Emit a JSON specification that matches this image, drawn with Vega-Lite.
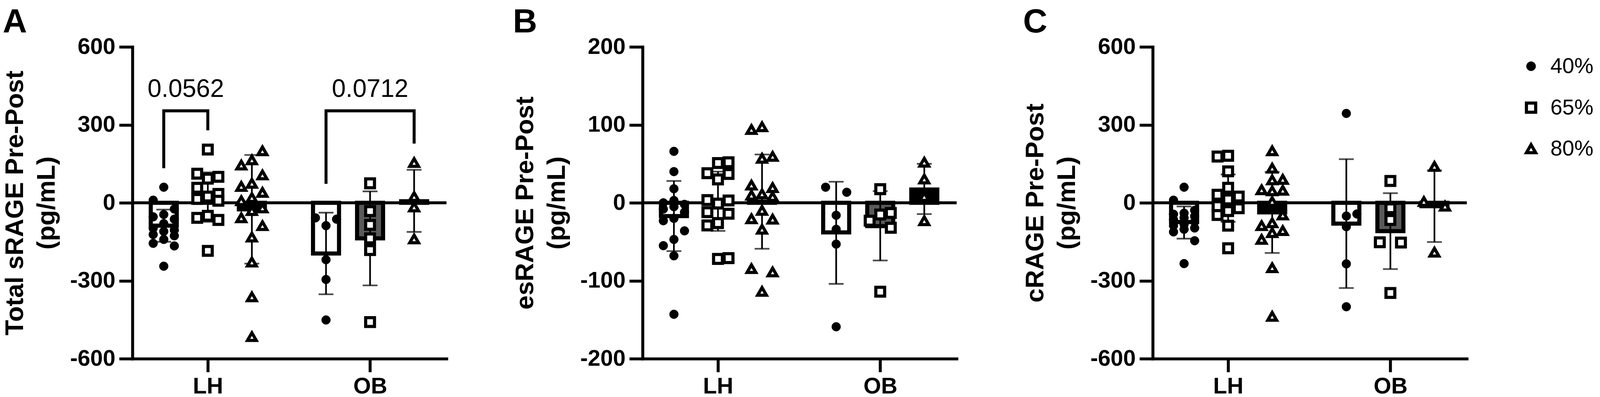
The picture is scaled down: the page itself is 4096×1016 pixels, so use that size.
{
  "$schema": "https://vega.github.io/schema/vega-lite/v6.json",
  "background": "white",
  "padding": {"left": 6, "top": 14, "right": 0, "bottom": 0},
  "spacing": 165,
  "resolve": {"scale": {"shape": "shared", "fill": "shared"}, "legend": {"shape": "shared", "fill": "shared"}},
  "config": {
    "font": "Liberation Sans",
    "view": {"stroke": null},
    "axis": {
      "domainColor": "black", "domainWidth": 7.6, "domainCap": "square",
      "tickColor": "black", "tickWidth": 7.6, "tickSize": 34,
      "labelFont": "Liberation Sans", "labelFontWeight": "bold", "labelFontSize": 58, "labelColor": "black",
      "titleFont": "Liberation Sans", "titleFontWeight": "bold", "titleFontSize": 65, "titleColor": "black",
      "titleLineHeight": 81, "titlePadding": 25, "labelPadding": 10, "grid": false
    },
    "axisX": {"labelPadding": 8},
    "title": {"anchor": "start", "frame": "bounds", "fontSize": 86, "fontWeight": "bold", "font": "Liberation Sans", "color": "black", "baseline": "alphabetic", "offset": -10},
    "legend": {"orient": "right", "offset": 111, "padding": 22, "labelFont": "Liberation Sans", "labelFontSize": 55, "labelColor": "black", "symbolStrokeColor": "black", "symbolStrokeWidth": 8, "rowPadding": 49, "labelOffset": 22}
  },
  "datasets": {
    "points": [
      {"panel":"A","group":"LH","intensity":"40%","value":60},{"panel":"A","group":"LH","intensity":"40%","value":10},{"panel":"A","group":"LH","intensity":"40%","value":-24},{"panel":"A","group":"LH","intensity":"40%","value":-45},{"panel":"A","group":"LH","intensity":"40%","value":-54},{"panel":"A","group":"LH","intensity":"40%","value":-63},{"panel":"A","group":"LH","intensity":"40%","value":-80},{"panel":"A","group":"LH","intensity":"40%","value":-98},{"panel":"A","group":"LH","intensity":"40%","value":-105},{"panel":"A","group":"LH","intensity":"40%","value":-110},{"panel":"A","group":"LH","intensity":"40%","value":-122},{"panel":"A","group":"LH","intensity":"40%","value":-127},{"panel":"A","group":"LH","intensity":"40%","value":-141},{"panel":"A","group":"LH","intensity":"40%","value":-156},{"panel":"A","group":"LH","intensity":"40%","value":-166},{"panel":"A","group":"LH","intensity":"40%","value":-244},
      {"panel":"A","group":"LH","intensity":"65%","value":205},{"panel":"A","group":"LH","intensity":"65%","value":112},{"panel":"A","group":"LH","intensity":"65%","value":100},{"panel":"A","group":"LH","intensity":"65%","value":93},{"panel":"A","group":"LH","intensity":"65%","value":58},{"panel":"A","group":"LH","intensity":"65%","value":34},{"panel":"A","group":"LH","intensity":"65%","value":24},{"panel":"A","group":"LH","intensity":"65%","value":15},{"panel":"A","group":"LH","intensity":"65%","value":8},{"panel":"A","group":"LH","intensity":"65%","value":-50},{"panel":"A","group":"LH","intensity":"65%","value":-58},{"panel":"A","group":"LH","intensity":"65%","value":-66},{"panel":"A","group":"LH","intensity":"65%","value":-185},
      {"panel":"A","group":"LH","intensity":"80%","value":200},{"panel":"A","group":"LH","intensity":"80%","value":165},{"panel":"A","group":"LH","intensity":"80%","value":145},{"panel":"A","group":"LH","intensity":"80%","value":107},{"panel":"A","group":"LH","intensity":"80%","value":75},{"panel":"A","group":"LH","intensity":"80%","value":63},{"panel":"A","group":"LH","intensity":"80%","value":40},{"panel":"A","group":"LH","intensity":"80%","value":20},{"panel":"A","group":"LH","intensity":"80%","value":8},{"panel":"A","group":"LH","intensity":"80%","value":-20},{"panel":"A","group":"LH","intensity":"80%","value":-30},{"panel":"A","group":"LH","intensity":"80%","value":-58},{"panel":"A","group":"LH","intensity":"80%","value":-88},{"panel":"A","group":"LH","intensity":"80%","value":-132},{"panel":"A","group":"LH","intensity":"80%","value":-228},{"panel":"A","group":"LH","intensity":"80%","value":-362},{"panel":"A","group":"LH","intensity":"80%","value":-515},
      {"panel":"A","group":"OB","intensity":"40%","value":-58},{"panel":"A","group":"OB","intensity":"40%","value":-88},{"panel":"A","group":"OB","intensity":"40%","value":-63},{"panel":"A","group":"OB","intensity":"40%","value":-219},{"panel":"A","group":"OB","intensity":"40%","value":-295},{"panel":"A","group":"OB","intensity":"40%","value":-451},
      {"panel":"A","group":"OB","intensity":"65%","value":75},{"panel":"A","group":"OB","intensity":"65%","value":-32},{"panel":"A","group":"OB","intensity":"65%","value":-85},{"panel":"A","group":"OB","intensity":"65%","value":-137},{"panel":"A","group":"OB","intensity":"65%","value":-182},{"panel":"A","group":"OB","intensity":"65%","value":-459},
      {"panel":"A","group":"OB","intensity":"80%","value":155},{"panel":"A","group":"OB","intensity":"80%","value":24},{"panel":"A","group":"OB","intensity":"80%","value":-16},{"panel":"A","group":"OB","intensity":"80%","value":-139},
      {"panel":"B","group":"LH","intensity":"40%","value":66},{"panel":"B","group":"LH","intensity":"40%","value":40},{"panel":"B","group":"LH","intensity":"40%","value":18},{"panel":"B","group":"LH","intensity":"40%","value":3},{"panel":"B","group":"LH","intensity":"40%","value":0},{"panel":"B","group":"LH","intensity":"40%","value":-2},{"panel":"B","group":"LH","intensity":"40%","value":-5},{"panel":"B","group":"LH","intensity":"40%","value":-8},{"panel":"B","group":"LH","intensity":"40%","value":-12},{"panel":"B","group":"LH","intensity":"40%","value":-20},{"panel":"B","group":"LH","intensity":"40%","value":-23},{"panel":"B","group":"LH","intensity":"40%","value":-36},{"panel":"B","group":"LH","intensity":"40%","value":-47},{"panel":"B","group":"LH","intensity":"40%","value":-55},{"panel":"B","group":"LH","intensity":"40%","value":-68},{"panel":"B","group":"LH","intensity":"40%","value":-143},
      {"panel":"B","group":"LH","intensity":"65%","value":52},{"panel":"B","group":"LH","intensity":"65%","value":51},{"panel":"B","group":"LH","intensity":"65%","value":38},{"panel":"B","group":"LH","intensity":"65%","value":37},{"panel":"B","group":"LH","intensity":"65%","value":30},{"panel":"B","group":"LH","intensity":"65%","value":3.5},{"panel":"B","group":"LH","intensity":"65%","value":3},{"panel":"B","group":"LH","intensity":"65%","value":-1},{"panel":"B","group":"LH","intensity":"65%","value":-12},{"panel":"B","group":"LH","intensity":"65%","value":-14},{"panel":"B","group":"LH","intensity":"65%","value":-26},{"panel":"B","group":"LH","intensity":"65%","value":-29},{"panel":"B","group":"LH","intensity":"65%","value":-71},{"panel":"B","group":"LH","intensity":"65%","value":-72},
      {"panel":"B","group":"LH","intensity":"80%","value":94},{"panel":"B","group":"LH","intensity":"80%","value":97.5},{"panel":"B","group":"LH","intensity":"80%","value":57},{"panel":"B","group":"LH","intensity":"80%","value":59.5},{"panel":"B","group":"LH","intensity":"80%","value":19.5},{"panel":"B","group":"LH","intensity":"80%","value":22.7},{"panel":"B","group":"LH","intensity":"80%","value":11.4},{"panel":"B","group":"LH","intensity":"80%","value":9.7},{"panel":"B","group":"LH","intensity":"80%","value":8},{"panel":"B","group":"LH","intensity":"80%","value":-9.7},{"panel":"B","group":"LH","intensity":"80%","value":-21},{"panel":"B","group":"LH","intensity":"80%","value":-20.5},{"panel":"B","group":"LH","intensity":"80%","value":-34},{"panel":"B","group":"LH","intensity":"80%","value":-84.5},{"panel":"B","group":"LH","intensity":"80%","value":-88.7},{"panel":"B","group":"LH","intensity":"80%","value":-113.7},
      {"panel":"B","group":"OB","intensity":"40%","value":13.5},{"panel":"B","group":"OB","intensity":"40%","value":20},{"panel":"B","group":"OB","intensity":"40%","value":-16},{"panel":"B","group":"OB","intensity":"40%","value":-34},{"panel":"B","group":"OB","intensity":"40%","value":-53},{"panel":"B","group":"OB","intensity":"40%","value":-159},
      {"panel":"B","group":"OB","intensity":"65%","value":17.5},{"panel":"B","group":"OB","intensity":"65%","value":-13},{"panel":"B","group":"OB","intensity":"65%","value":-15},{"panel":"B","group":"OB","intensity":"65%","value":-23},{"panel":"B","group":"OB","intensity":"65%","value":-32},{"panel":"B","group":"OB","intensity":"65%","value":-114},
      {"panel":"B","group":"OB","intensity":"80%","value":52},{"panel":"B","group":"OB","intensity":"80%","value":30.5},{"panel":"B","group":"OB","intensity":"80%","value":8},{"panel":"B","group":"OB","intensity":"80%","value":-23},
      {"panel":"C","group":"LH","intensity":"40%","value":60},{"panel":"C","group":"LH","intensity":"40%","value":10},{"panel":"C","group":"LH","intensity":"40%","value":-29},{"panel":"C","group":"LH","intensity":"40%","value":-40},{"panel":"C","group":"LH","intensity":"40%","value":-44},{"panel":"C","group":"LH","intensity":"40%","value":-52},{"panel":"C","group":"LH","intensity":"40%","value":-58},{"panel":"C","group":"LH","intensity":"40%","value":-65},{"panel":"C","group":"LH","intensity":"40%","value":-73},{"panel":"C","group":"LH","intensity":"40%","value":-83},{"panel":"C","group":"LH","intensity":"40%","value":-88},{"panel":"C","group":"LH","intensity":"40%","value":-97},{"panel":"C","group":"LH","intensity":"40%","value":-102},{"panel":"C","group":"LH","intensity":"40%","value":-112},{"panel":"C","group":"LH","intensity":"40%","value":-146},{"panel":"C","group":"LH","intensity":"40%","value":-234},
      {"panel":"C","group":"LH","intensity":"65%","value":178},{"panel":"C","group":"LH","intensity":"65%","value":181},{"panel":"C","group":"LH","intensity":"65%","value":121},{"panel":"C","group":"LH","intensity":"65%","value":58},{"panel":"C","group":"LH","intensity":"65%","value":31},{"panel":"C","group":"LH","intensity":"65%","value":13},{"panel":"C","group":"LH","intensity":"65%","value":24},{"panel":"C","group":"LH","intensity":"65%","value":-13},{"panel":"C","group":"LH","intensity":"65%","value":-32},{"panel":"C","group":"LH","intensity":"65%","value":-21},{"panel":"C","group":"LH","intensity":"65%","value":-47},{"panel":"C","group":"LH","intensity":"65%","value":-88},{"panel":"C","group":"LH","intensity":"65%","value":-175},
      {"panel":"C","group":"LH","intensity":"80%","value":200},{"panel":"C","group":"LH","intensity":"80%","value":133},{"panel":"C","group":"LH","intensity":"80%","value":90},{"panel":"C","group":"LH","intensity":"80%","value":88},{"panel":"C","group":"LH","intensity":"80%","value":50},{"panel":"C","group":"LH","intensity":"80%","value":48},{"panel":"C","group":"LH","intensity":"80%","value":46},{"panel":"C","group":"LH","intensity":"80%","value":5},{"panel":"C","group":"LH","intensity":"80%","value":-47},{"panel":"C","group":"LH","intensity":"80%","value":-77},{"panel":"C","group":"LH","intensity":"80%","value":-88},{"panel":"C","group":"LH","intensity":"80%","value":-107},{"panel":"C","group":"LH","intensity":"80%","value":-115},{"panel":"C","group":"LH","intensity":"80%","value":-141},{"panel":"C","group":"LH","intensity":"80%","value":-250},{"panel":"C","group":"LH","intensity":"80%","value":-437},
      {"panel":"C","group":"OB","intensity":"40%","value":344},{"panel":"C","group":"OB","intensity":"40%","value":-43},{"panel":"C","group":"OB","intensity":"40%","value":-51},{"panel":"C","group":"OB","intensity":"40%","value":-92},{"panel":"C","group":"OB","intensity":"40%","value":-235},{"panel":"C","group":"OB","intensity":"40%","value":-400},
      {"panel":"C","group":"OB","intensity":"65%","value":84},{"panel":"C","group":"OB","intensity":"65%","value":-21},{"panel":"C","group":"OB","intensity":"65%","value":-66},{"panel":"C","group":"OB","intensity":"65%","value":-152},{"panel":"C","group":"OB","intensity":"65%","value":-153},{"panel":"C","group":"OB","intensity":"65%","value":-347},
      {"panel":"C","group":"OB","intensity":"80%","value":140},{"panel":"C","group":"OB","intensity":"80%","value":5},{"panel":"C","group":"OB","intensity":"80%","value":-13},{"panel":"C","group":"OB","intensity":"80%","value":-190}
    ],
    "summary": [
      {"panel":"A","group":"LH","intensity":"40%","mean":-88,"lo":-150,"hi":-26},
      {"panel":"A","group":"LH","intensity":"65%","mean":22,"lo":-73,"hi":117},
      {"panel":"A","group":"LH","intensity":"80%","mean":-25,"lo":-234,"hi":184},
      {"panel":"A","group":"OB","intensity":"40%","mean":-195,"lo":-352,"hi":-38},
      {"panel":"A","group":"OB","intensity":"65%","mean":-137,"lo":-318,"hi":44},
      {"panel":"A","group":"OB","intensity":"80%","mean":6,"lo":-112,"hi":127},
      {"panel":"B","group":"LH","intensity":"40%","mean":-17,"lo":-62,"hi":28},
      {"panel":"B","group":"LH","intensity":"65%","mean":2,"lo":-36,"hi":40},
      {"panel":"B","group":"LH","intensity":"80%","mean":1.5,"lo":-59,"hi":62},
      {"panel":"B","group":"OB","intensity":"40%","mean":-38,"lo":-104,"hi":27},
      {"panel":"B","group":"OB","intensity":"65%","mean":-30,"lo":-74,"hi":15},
      {"panel":"B","group":"OB","intensity":"80%","mean":17,"lo":-14.5,"hi":50},
      {"panel":"C","group":"LH","intensity":"40%","mean":-74,"lo":-138,"hi":-14},
      {"panel":"C","group":"LH","intensity":"65%","mean":18,"lo":-73,"hi":109},
      {"panel":"C","group":"LH","intensity":"80%","mean":-37,"lo":-193,"hi":119},
      {"panel":"C","group":"OB","intensity":"40%","mean":-80,"lo":-328,"hi":168},
      {"panel":"C","group":"OB","intensity":"65%","mean":-109,"lo":-255,"hi":37},
      {"panel":"C","group":"OB","intensity":"80%","mean":-13,"lo":-151,"hi":125}
    ],
    "brackets": [
      {"bracket":"LH","k":0,"group":"LH","intensity":"40%","y":133},
      {"bracket":"LH","k":1,"group":"LH","intensity":"40%","y":354},
      {"bracket":"LH","k":2,"group":"LH","intensity":"65%","y":354},
      {"bracket":"LH","k":3,"group":"LH","intensity":"65%","y":279},
      {"bracket":"OB","k":0,"group":"OB","intensity":"40%","y":73},
      {"bracket":"OB","k":1,"group":"OB","intensity":"40%","y":354},
      {"bracket":"OB","k":2,"group":"OB","intensity":"80%","y":354},
      {"bracket":"OB","k":3,"group":"OB","intensity":"80%","y":228}
    ],
    "pvals": [
      {"group":"LH","intensity":"40%-65%","y":407,"label":"0.0562"},
      {"group":"OB","intensity":"40%-80%","y":407,"label":"0.0712"}
    ]
  },
  "hconcat": [
    {
      "width": 804, "height": 798,
      "title": "A",
      "layer": [
        {
          "data": {"name": "summary"},
          "transform": [{"filter": "datum.panel == 'A'"}, {"calculate": "(datum.group == 'LH' ? 1.667 : 5.35) + (datum.intensity == '40%' ? -1 : datum.intensity == '65%' ? 0 : 1)", "as": "xpos"}],
          "mark": {"type": "bar", "width": 66.6, "stroke": "black", "strokeWidth": 10.5},
          "encoding": {
            "x": {"field": "xpos", "type": "quantitative", "scale": {"domain": [0, 7.04], "nice": false, "zero": false}, "axis": {"values": [1.667, 5.35], "labelExpr": "datum.value < 3 ? 'LH' : 'OB'", "title": null}},
            "y": {"field": "mean", "type": "quantitative", "scale": {"domain": [-600, 600], "nice": false}, "axis": {"values": [-600, -300, 0, 300, 600], "labelExpr": "'' + datum.value", "title": ["Total sRAGE Pre-Post", "(pg/mL)"]}},
            "y2": {"datum": 0},
            "fill": {"condition": [{"test": "datum.intensity == '40%'", "value": "white"}, {"test": "datum.intensity == '65%'", "value": "#5a5a5a"}], "value": "black"}
          }
        },
        {
          "data": {"name": "summary"},
          "transform": [{"filter": "datum.panel == 'A'"}, {"calculate": "(datum.group == 'LH' ? 1.667 : 5.35) + (datum.intensity == '40%' ? -1 : datum.intensity == '65%' ? 0 : 1)", "as": "xpos"}],
          "mark": {"type": "rule", "color": "black", "strokeWidth": 4.3},
          "encoding": {
            "x": {"field": "xpos", "type": "quantitative"},
            "y": {"field": "lo", "type": "quantitative"},
            "y2": {"field": "hi"}
          }
        },
        {
          "data": {"name": "summary"},
          "transform": [{"filter": "datum.panel == 'A'"}, {"calculate": "(datum.group == 'LH' ? 1.667 : 5.35) + (datum.intensity == '40%' ? -1 : datum.intensity == '65%' ? 0 : 1)", "as": "xpos"}, {"fold": ["lo", "hi"], "as": ["cap", "capval"]}],
          "mark": {"type": "tick", "orient": "horizontal", "size": 38, "thickness": 4.3, "color": "black"},
          "encoding": {
            "x": {"field": "xpos", "type": "quantitative"},
            "y": {"field": "capval", "type": "quantitative"}
          }
        },
        {
          "data": {"values": [{}]},
          "mark": {"type": "rule", "color": "black", "strokeWidth": 7.6},
          "encoding": {"y": {"datum": 0, "type": "quantitative"}}
        },
        {
          "data": {"name": "brackets"},
          "transform": [{"calculate": "(datum.group == 'LH' ? 1.667 : 5.35) + (datum.intensity == '40%' ? -1 : datum.intensity == '65%' ? 0 : 1)", "as": "xpos"}],
          "mark": {"type": "line", "color": "black", "strokeWidth": 7.6, "strokeJoin": "miter", "strokeCap": "butt"},
          "encoding": {
            "x": {"field": "xpos", "type": "quantitative"},
            "y": {"field": "y", "type": "quantitative"},
            "detail": {"field": "bracket"},
            "order": {"field": "k", "type": "quantitative"}
          }
        },
        {
          "data": {"name": "pvals"},
          "transform": [{"calculate": "(datum.group == 'LH' ? 1.667 : 5.35) + (datum.intensity == '40%-65%' ? -0.5 : 0)", "as": "xpos"}],
          "mark": {"type": "text", "font": "Liberation Sans", "fontSize": 64, "align": "center", "baseline": "alphabetic", "color": "black"},
          "encoding": {
            "x": {"field": "xpos", "type": "quantitative"},
            "y": {"field": "y", "type": "quantitative"},
            "text": {"field": "label"}
          }
        },
        {
          "data": {"name": "points"},
          "transform": [
            {"filter": "datum.panel == 'A'"},
            {"window": [{"op": "row_number", "as": "rank"}, {"op": "lag", "field": "value", "as": "prev"}, {"op": "lead", "field": "value", "as": "next"}], "groupby": ["group", "intensity"], "sort": [{"field": "value", "order": "ascending"}]},
            {"calculate": "min(datum.prev == null ? 1e9 : datum.value - datum.prev, datum.next == null ? 1e9 : datum.next - datum.value)", "as": "gap"},
            {"calculate": "(datum.group == 'LH' ? 1.667 : 5.35) + (datum.intensity == '40%' ? -1 : datum.intensity == '65%' ? 0 : 1) + (datum.gap < 40 ? ((datum.rank % 3) - 1) * 0.24 : 0)", "as": "xpos"}
          ],
          "mark": {"type": "point", "filled": true, "stroke": "black", "strokeWidth": 8, "strokeJoin": "miter", "opacity": 1, "size": 510},
          "encoding": {
            "x": {"field": "xpos", "type": "quantitative"},
            "y": {"field": "value", "type": "quantitative"},
            "shape": {"field": "intensity", "type": "nominal", "scale": {"domain": ["40%", "65%", "80%"], "range": ["circle", "square", "triangle-up"]}, "legend": {"title": null, "symbolSize": 560, "encoding": {"symbols": {"stroke": {"value": "black"}, "strokeWidth": {"value": {"expr": "datum.value == '40%' ? 1 : 8"}}, "strokeJoin": {"value": "miter"}}}}},
            "fill": {"field": "intensity", "type": "nominal", "scale": {"domain": ["40%", "65%", "80%"], "range": ["black", "white", "white"]}, "legend": {"title": null, "symbolSize": 560, "encoding": {"symbols": {"stroke": {"value": "black"}, "strokeWidth": {"value": {"expr": "datum.value == '40%' ? 1 : 8"}}, "strokeJoin": {"value": "miter"}}}}},
            "strokeWidth": {"condition": {"test": "datum.intensity == '40%'", "value": 1}, "value": 8}
          }
        }
      ]
    },
    {
      "width": 804, "height": 798,
      "title": "B",
      "layer": [
        {
          "data": {"name": "summary"},
          "transform": [{"filter": "datum.panel == 'B'"}, {"calculate": "(datum.group == 'LH' ? 1.667 : 5.35) + (datum.intensity == '40%' ? -1 : datum.intensity == '65%' ? 0 : 1)", "as": "xpos"}],
          "mark": {"type": "bar", "width": 66.6, "stroke": "black", "strokeWidth": 10.5},
          "encoding": {
            "x": {"field": "xpos", "type": "quantitative", "scale": {"domain": [0, 7.04], "nice": false, "zero": false}, "axis": {"values": [1.667, 5.35], "labelExpr": "datum.value < 3 ? 'LH' : 'OB'", "title": null}},
            "y": {"field": "mean", "type": "quantitative", "scale": {"domain": [-200, 200], "nice": false}, "axis": {"values": [-200, -100, 0, 100, 200], "labelExpr": "'' + datum.value", "title": ["esRAGE Pre-Post", "(pg/mL)"]}},
            "y2": {"datum": 0},
            "fill": {"condition": [{"test": "datum.intensity == '40%'", "value": "white"}, {"test": "datum.intensity == '65%'", "value": "#5a5a5a"}], "value": "black"}
          }
        },
        {
          "data": {"name": "summary"},
          "transform": [{"filter": "datum.panel == 'B'"}, {"calculate": "(datum.group == 'LH' ? 1.667 : 5.35) + (datum.intensity == '40%' ? -1 : datum.intensity == '65%' ? 0 : 1)", "as": "xpos"}],
          "mark": {"type": "rule", "color": "black", "strokeWidth": 4.3},
          "encoding": {
            "x": {"field": "xpos", "type": "quantitative"},
            "y": {"field": "lo", "type": "quantitative"},
            "y2": {"field": "hi"}
          }
        },
        {
          "data": {"name": "summary"},
          "transform": [{"filter": "datum.panel == 'B'"}, {"calculate": "(datum.group == 'LH' ? 1.667 : 5.35) + (datum.intensity == '40%' ? -1 : datum.intensity == '65%' ? 0 : 1)", "as": "xpos"}, {"fold": ["lo", "hi"], "as": ["cap", "capval"]}],
          "mark": {"type": "tick", "orient": "horizontal", "size": 38, "thickness": 4.3, "color": "black"},
          "encoding": {
            "x": {"field": "xpos", "type": "quantitative"},
            "y": {"field": "capval", "type": "quantitative"}
          }
        },
        {
          "data": {"values": [{}]},
          "mark": {"type": "rule", "color": "black", "strokeWidth": 7.6},
          "encoding": {"y": {"datum": 0, "type": "quantitative"}}
        },
        {
          "data": {"name": "points"},
          "transform": [
            {"filter": "datum.panel == 'B'"},
            {"window": [{"op": "row_number", "as": "rank"}, {"op": "lag", "field": "value", "as": "prev"}, {"op": "lead", "field": "value", "as": "next"}], "groupby": ["group", "intensity"], "sort": [{"field": "value", "order": "ascending"}]},
            {"calculate": "min(datum.prev == null ? 1e9 : datum.value - datum.prev, datum.next == null ? 1e9 : datum.next - datum.value)", "as": "gap"},
            {"calculate": "(datum.group == 'LH' ? 1.667 : 5.35) + (datum.intensity == '40%' ? -1 : datum.intensity == '65%' ? 0 : 1) + (datum.gap < 13 ? ((datum.rank % 3) - 1) * 0.24 : 0)", "as": "xpos"}
          ],
          "mark": {"type": "point", "filled": true, "stroke": "black", "strokeWidth": 8, "strokeJoin": "miter", "opacity": 1, "size": 510},
          "encoding": {
            "x": {"field": "xpos", "type": "quantitative"},
            "y": {"field": "value", "type": "quantitative"},
            "shape": {"field": "intensity", "type": "nominal", "scale": {"domain": ["40%", "65%", "80%"], "range": ["circle", "square", "triangle-up"]}, "legend": {"title": null, "symbolSize": 560, "encoding": {"symbols": {"stroke": {"value": "black"}, "strokeWidth": {"value": {"expr": "datum.value == '40%' ? 1 : 8"}}, "strokeJoin": {"value": "miter"}}}}},
            "fill": {"field": "intensity", "type": "nominal", "scale": {"domain": ["40%", "65%", "80%"], "range": ["black", "white", "white"]}, "legend": {"title": null, "symbolSize": 560, "encoding": {"symbols": {"stroke": {"value": "black"}, "strokeWidth": {"value": {"expr": "datum.value == '40%' ? 1 : 8"}}, "strokeJoin": {"value": "miter"}}}}},
            "strokeWidth": {"condition": {"test": "datum.intensity == '40%'", "value": 1}, "value": 8}
          }
        }
      ]
    },
    {
      "width": 804, "height": 798,
      "title": "C",
      "layer": [
        {
          "data": {"name": "summary"},
          "transform": [{"filter": "datum.panel == 'C'"}, {"calculate": "(datum.group == 'LH' ? 1.667 : 5.35) + (datum.intensity == '40%' ? -1 : datum.intensity == '65%' ? 0 : 1)", "as": "xpos"}],
          "mark": {"type": "bar", "width": 66.6, "stroke": "black", "strokeWidth": 10.5},
          "encoding": {
            "x": {"field": "xpos", "type": "quantitative", "scale": {"domain": [0, 7.04], "nice": false, "zero": false}, "axis": {"values": [1.667, 5.35], "labelExpr": "datum.value < 3 ? 'LH' : 'OB'", "title": null}},
            "y": {"field": "mean", "type": "quantitative", "scale": {"domain": [-600, 600], "nice": false}, "axis": {"values": [-600, -300, 0, 300, 600], "labelExpr": "'' + datum.value", "title": ["cRAGE Pre-Post", "(pg/mL)"]}},
            "y2": {"datum": 0},
            "fill": {"condition": [{"test": "datum.intensity == '40%'", "value": "white"}, {"test": "datum.intensity == '65%'", "value": "#5a5a5a"}], "value": "black"}
          }
        },
        {
          "data": {"name": "summary"},
          "transform": [{"filter": "datum.panel == 'C'"}, {"calculate": "(datum.group == 'LH' ? 1.667 : 5.35) + (datum.intensity == '40%' ? -1 : datum.intensity == '65%' ? 0 : 1)", "as": "xpos"}],
          "mark": {"type": "rule", "color": "black", "strokeWidth": 4.3},
          "encoding": {
            "x": {"field": "xpos", "type": "quantitative"},
            "y": {"field": "lo", "type": "quantitative"},
            "y2": {"field": "hi"}
          }
        },
        {
          "data": {"name": "summary"},
          "transform": [{"filter": "datum.panel == 'C'"}, {"calculate": "(datum.group == 'LH' ? 1.667 : 5.35) + (datum.intensity == '40%' ? -1 : datum.intensity == '65%' ? 0 : 1)", "as": "xpos"}, {"fold": ["lo", "hi"], "as": ["cap", "capval"]}],
          "mark": {"type": "tick", "orient": "horizontal", "size": 38, "thickness": 4.3, "color": "black"},
          "encoding": {
            "x": {"field": "xpos", "type": "quantitative"},
            "y": {"field": "capval", "type": "quantitative"}
          }
        },
        {
          "data": {"values": [{}]},
          "mark": {"type": "rule", "color": "black", "strokeWidth": 7.6},
          "encoding": {"y": {"datum": 0, "type": "quantitative"}}
        },
        {
          "data": {"name": "points"},
          "transform": [
            {"filter": "datum.panel == 'C'"},
            {"window": [{"op": "row_number", "as": "rank"}, {"op": "lag", "field": "value", "as": "prev"}, {"op": "lead", "field": "value", "as": "next"}], "groupby": ["group", "intensity"], "sort": [{"field": "value", "order": "ascending"}]},
            {"calculate": "min(datum.prev == null ? 1e9 : datum.value - datum.prev, datum.next == null ? 1e9 : datum.next - datum.value)", "as": "gap"},
            {"calculate": "(datum.group == 'LH' ? 1.667 : 5.35) + (datum.intensity == '40%' ? -1 : datum.intensity == '65%' ? 0 : 1) + (datum.gap < 40 ? ((datum.rank % 3) - 1) * 0.24 : 0)", "as": "xpos"}
          ],
          "mark": {"type": "point", "filled": true, "stroke": "black", "strokeWidth": 8, "strokeJoin": "miter", "opacity": 1, "size": 510},
          "encoding": {
            "x": {"field": "xpos", "type": "quantitative"},
            "y": {"field": "value", "type": "quantitative"},
            "shape": {"field": "intensity", "type": "nominal", "scale": {"domain": ["40%", "65%", "80%"], "range": ["circle", "square", "triangle-up"]}, "legend": {"title": null, "symbolSize": 560, "encoding": {"symbols": {"stroke": {"value": "black"}, "strokeWidth": {"value": {"expr": "datum.value == '40%' ? 1 : 8"}}, "strokeJoin": {"value": "miter"}}}}},
            "fill": {"field": "intensity", "type": "nominal", "scale": {"domain": ["40%", "65%", "80%"], "range": ["black", "white", "white"]}, "legend": {"title": null, "symbolSize": 560, "encoding": {"symbols": {"stroke": {"value": "black"}, "strokeWidth": {"value": {"expr": "datum.value == '40%' ? 1 : 8"}}, "strokeJoin": {"value": "miter"}}}}},
            "strokeWidth": {"condition": {"test": "datum.intensity == '40%'", "value": 1}, "value": 8}
          }
        }
      ]
    }
  ]
}
